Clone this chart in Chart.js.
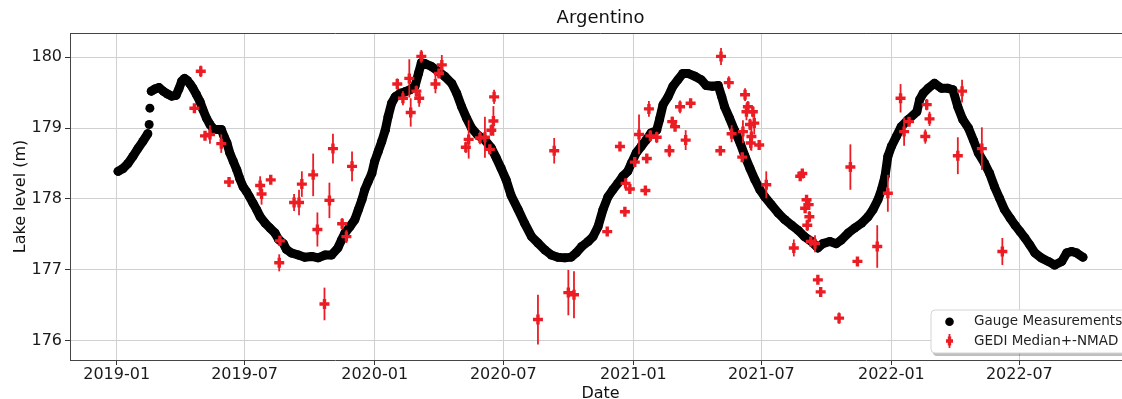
<!DOCTYPE html>
<html>
<head>
<meta charset="utf-8">
<script src="https://cdn.jsdelivr.net/npm/chart.js@4.4.1/dist/chart.umd.min.js"></script>
<style>
html,body{margin:0;padding:0;background:#ffffff;overflow:hidden;width:1122px;height:399px;}
#wrap{width:1140px;height:399px;}
canvas{display:block;}
</style>
</head>
<body>
<div id="wrap"><canvas id="c" width="1140" height="399" style="width:1140px;height:399px"></canvas></div>
<script>
// ---------- data ----------
const chartTitle = 'Argentino';
const xAxisTitle = 'Date';
const yAxisTitle = 'Lake level (m)';
const xTickLabels = ['2019-01','2019-07','2020-01','2020-07','2021-01','2021-07','2022-01','2022-07'];
const yTickValues = [176, 177, 178, 179, 180];
const xRange = ['2018-10-27', '2022-12-06'];
const yRange = [175.73, 180.34];

const gaugeLabel = 'Gauge Measurements';
const gaugeDates = [
'2019-01-03','2019-01-10','2019-01-17','2019-01-24','2019-01-31','2019-02-07','2019-02-14','2019-02-16','2019-02-17','2019-02-19',
'2019-02-24','2019-03-02','2019-03-08','2019-03-14','2019-03-20','2019-03-26','2019-03-30','2019-04-03','2019-04-07','2019-04-11',
'2019-04-15','2019-04-19','2019-04-24','2019-04-29','2019-05-03','2019-05-08','2019-05-13','2019-05-18','2019-05-24','2019-05-29',
'2019-06-02','2019-06-06','2019-06-10','2019-06-15','2019-06-20','2019-06-24','2019-06-29','2019-07-04','2019-07-08','2019-07-13',
'2019-07-18','2019-07-23','2019-07-30','2019-08-06','2019-08-13','2019-08-18','2019-08-25','2019-08-29','2019-09-05','2019-09-15',
'2019-09-24','2019-10-04','2019-10-13','2019-10-23','2019-11-01','2019-11-10','2019-11-15','2019-11-20','2019-11-27','2019-12-04',
'2019-12-09','2019-12-14','2019-12-18','2019-12-23','2019-12-28','2020-01-01','2020-01-06','2020-01-11','2020-01-16','2020-01-20',
'2020-01-25','2020-01-30','2020-02-06','2020-02-13','2020-02-20','2020-02-27','2020-03-03','2020-03-07','2020-03-12','2020-03-21',
'2020-03-31','2020-04-09','2020-04-19','2020-04-26','2020-05-03','2020-05-10','2020-05-17','2020-05-26','2020-06-05','2020-06-14',
'2020-06-21','2020-06-28','2020-07-05','2020-07-12','2020-07-22','2020-07-31','2020-08-10','2020-08-19','2020-08-29','2020-09-07',
'2020-09-16','2020-09-26','2020-10-05','2020-10-12','2020-10-20','2020-10-29','2020-11-05','2020-11-12','2020-11-19','2020-11-26',
'2020-12-03','2020-12-10','2020-12-17','2020-12-24','2020-12-29','2021-01-05','2021-01-12','2021-01-19','2021-01-26','2021-02-03',
'2021-02-07','2021-02-12','2021-02-19','2021-02-26','2021-03-05','2021-03-12','2021-03-19','2021-03-29','2021-04-07','2021-04-14',
'2021-04-23','2021-05-01','2021-05-06','2021-05-10','2021-05-17','2021-05-24','2021-06-01','2021-06-08','2021-06-15','2021-06-22',
'2021-06-29','2021-07-06','2021-07-15','2021-07-25','2021-08-03','2021-08-13','2021-08-22','2021-08-31','2021-09-10','2021-09-19',
'2021-09-26','2021-10-06','2021-10-15','2021-10-22','2021-11-01','2021-11-10','2021-11-20','2021-11-29','2021-12-06','2021-12-13',
'2021-12-18','2021-12-23','2021-12-27','2022-01-01','2022-01-08','2022-01-15','2022-01-25','2022-02-06','2022-02-10','2022-02-15',
'2022-02-22','2022-03-03','2022-03-13','2022-03-22','2022-03-29','2022-04-05','2022-04-12','2022-04-20','2022-04-27','2022-05-04',
'2022-05-13','2022-05-20','2022-05-27','2022-06-03','2022-06-10','2022-06-18','2022-06-25','2022-07-02','2022-07-09','2022-07-16',
'2022-07-23','2022-08-01','2022-08-11','2022-08-20','2022-08-30','2022-09-06','2022-09-13','2022-09-20','2022-09-29'
];
const gaugeLevels = [
178.39,178.43,178.50,178.60,178.71,178.81,178.92,179.05,179.28,179.52,
179.55,179.57,179.52,179.48,179.45,179.46,179.55,179.66,179.70,179.67,
179.62,179.56,179.47,179.37,179.26,179.14,179.05,178.99,178.98,178.98,
178.88,178.79,178.65,178.53,178.41,178.29,178.17,178.10,178.03,177.94,
177.85,177.75,177.66,177.59,177.52,177.43,177.37,177.29,177.24,177.21,
177.18,177.19,177.17,177.21,177.21,177.31,177.42,177.52,177.61,177.71,
177.85,177.99,178.13,178.25,178.36,178.53,178.67,178.81,178.97,179.16,
179.35,179.44,179.49,179.51,179.54,179.59,179.77,179.92,179.91,179.87,
179.80,179.73,179.63,179.49,179.30,179.14,179.00,178.90,178.83,178.72,
178.58,178.43,178.27,178.05,177.85,177.66,177.47,177.38,177.28,177.21,
177.18,177.17,177.18,177.24,177.33,177.40,177.47,177.61,177.85,178.03,
178.13,178.22,178.32,178.39,178.50,178.65,178.74,178.83,178.93,178.97,
179.12,179.33,179.44,179.59,179.68,179.77,179.77,179.73,179.68,179.60,
179.59,179.60,179.44,179.30,179.14,178.97,178.79,178.60,178.43,178.27,
178.13,178.03,177.92,177.80,177.71,177.63,177.56,177.47,177.40,177.31,
177.37,177.40,177.37,177.42,177.52,177.59,177.66,177.75,177.85,177.99,
178.13,178.32,178.60,178.74,178.88,179.02,179.12,179.23,179.40,179.49,
179.56,179.63,179.56,179.56,179.54,179.30,179.12,179.00,178.83,178.65,
178.50,178.36,178.17,178.01,177.85,177.73,177.63,177.54,177.45,177.35,
177.24,177.17,177.12,177.07,177.12,177.24,177.26,177.24,177.18
];

const gediLabel = 'GEDI Median+-NMAD';
const gediDates = [
'2019-04-21','2019-04-30','2019-05-06','2019-05-13','2019-05-29','2019-06-09','2019-07-23','2019-07-25','2019-08-07','2019-08-19',
'2019-08-20','2019-09-09','2019-09-16','2019-09-20','2019-10-06','2019-10-12','2019-10-22','2019-10-29','2019-11-03','2019-11-16',
'2019-11-22','2019-11-30','2020-02-02','2020-02-10','2020-02-19','2020-02-21','2020-02-29','2020-03-04','2020-03-07','2020-03-27',
'2020-04-01','2020-04-05','2020-05-09','2020-05-13','2020-05-29','2020-06-05','2020-06-12','2020-06-14','2020-06-17','2020-06-18',
'2020-08-19','2020-09-11','2020-10-01','2020-10-09','2020-11-25','2020-12-13','2020-12-20','2020-12-21','2020-12-27','2021-01-03',
'2021-01-09','2021-01-18','2021-01-20','2021-01-23','2021-01-25','2021-02-03','2021-02-21','2021-02-25','2021-03-01','2021-03-08',
'2021-03-16','2021-03-23','2021-05-05','2021-05-04','2021-05-16','2021-05-20','2021-06-04','2021-06-05','2021-06-08','2021-06-10',
'2021-06-12','2021-06-15','2021-06-16','2021-06-17','2021-06-19','2021-06-21','2021-06-28','2021-07-08','2021-08-16','2021-08-25',
'2021-08-28','2021-09-01','2021-09-03','2021-09-04','2021-09-06','2021-09-07','2021-09-09','2021-09-15','2021-09-19','2021-09-23',
'2021-10-19','2021-11-04','2021-11-14','2021-12-12','2021-12-27','2022-01-14','2022-01-19','2022-01-26','2022-02-18','2022-02-20',
'2022-02-24','2022-04-05','2022-04-11','2022-05-09','2022-06-07'
];
const gediMedian = [
179.28,179.80,178.89,178.91,178.78,178.24,178.19,178.07,178.27,177.10,
177.41,177.95,177.95,178.21,178.34,177.57,176.52,177.98,178.71,177.65,
177.47,178.46,179.62,179.42,179.70,179.22,179.52,179.42,180.01,179.62,
179.77,179.89,178.73,178.84,178.86,178.87,178.70,178.97,179.10,179.44,
176.30,178.68,176.68,176.65,177.54,178.74,177.82,178.22,178.14,178.52,
178.91,178.12,178.57,179.27,178.89,178.87,178.68,179.09,179.02,179.30,
178.83,179.35,180.01,178.68,179.64,178.92,178.59,178.95,179.47,179.23,
179.30,179.05,178.79,178.88,179.23,179.07,178.76,178.20,177.31,178.32,
178.36,177.87,177.99,177.63,177.92,177.75,177.40,177.37,176.86,176.69,
176.32,178.45,177.12,177.33,178.08,179.42,178.95,179.09,178.88,179.33,
179.13,178.61,179.52,178.71,177.26
];
const gediNmad = [
0.05,0.08,0.06,0.13,0.13,0.05,0.13,0.15,0.05,0.12,
0.07,0.12,0.18,0.18,0.30,0.24,0.23,0.25,0.21,0.08,
0.09,0.21,0.08,0.10,0.27,0.20,0.08,0.12,0.09,0.13,
0.06,0.14,0.08,0.27,0.09,0.29,0.05,0.08,0.21,0.10,
0.35,0.18,0.32,0.33,0.05,0.05,0.05,0.07,0.05,0.07,
0.28,0.05,0.05,0.11,0.08,0.08,0.09,0.07,0.05,0.09,
0.14,0.05,0.12,0.05,0.09,0.12,0.05,0.16,0.09,0.12,
0.08,0.08,0.10,0.20,0.08,0.16,0.05,0.19,0.12,0.05,
0.05,0.05,0.05,0.08,0.05,0.08,0.06,0.12,0.05,0.05,
0.08,0.32,0.05,0.30,0.26,0.20,0.20,0.05,0.10,0.08,
0.10,0.26,0.16,0.30,0.19
];

// ---------- helpers ----------
const DAY = 86400000;
const t = s => Date.parse(s + (s.length === 7 ? '-01' : '') + 'T00:00:00Z');
const FONT = "'DejaVu Sans', 'Liberation Sans', sans-serif";
const RED = '#ec1c24';

const gaugePoints = gaugeDates.map((d, i) => ({x: t(d), y: gaugeLevels[i]}));
const gediPoints = gediDates.map((d, i) => ({x: t(d), y: gediMedian[i]}));
const xTickValues = xTickLabels.map(t);

const errorBarPlugin = {
  id: 'errorBars',
  beforeDatasetDraw(chart, args) {
    if (chart.data.datasets[args.index].label !== gediLabel) return;
    const {ctx, scales: {x, y}, chartArea: a} = chart;
    ctx.save();
    ctx.beginPath(); ctx.rect(a.left, a.top, a.right - a.left, a.bottom - a.top); ctx.clip();
    ctx.strokeStyle = RED; ctx.lineWidth = 1.8;
    gediPoints.forEach((p, i) => {
      const px = x.getPixelForValue(p.x);
      ctx.beginPath();
      ctx.moveTo(px, y.getPixelForValue(p.y - gediNmad[i]));
      ctx.lineTo(px, y.getPixelForValue(p.y + gediNmad[i]));
      ctx.stroke();
    });
    ctx.restore();
  }
};

const framePlugin = {
  id: 'frame',
  afterDatasetsDraw(chart) {
    const {ctx, chartArea: a} = chart;
    ctx.save();
    ctx.strokeStyle = '#444'; ctx.lineWidth = 1;
    ctx.beginPath();
    ctx.moveTo(a.left, a.top + 0.5); ctx.lineTo(a.right + 0.5, a.top + 0.5); ctx.lineTo(a.right + 0.5, a.bottom);
    ctx.stroke();
    ctx.restore();
  }
};

function rrect(ctx, x, y, w, h, r) {
  ctx.beginPath();
  ctx.moveTo(x + r, y); ctx.lineTo(x + w - r, y); ctx.quadraticCurveTo(x + w, y, x + w, y + r);
  ctx.lineTo(x + w, y + h - r); ctx.quadraticCurveTo(x + w, y + h, x + w - r, y + h);
  ctx.lineTo(x + r, y + h); ctx.quadraticCurveTo(x, y + h, x, y + h - r);
  ctx.lineTo(x, y + r); ctx.quadraticCurveTo(x, y, x + r, y); ctx.closePath();
}

const legendPlugin = {
  id: 'boxLegend',
  afterDraw(chart) {
    const {ctx, chartArea: a} = chart;
    const x0 = a.right - 200, y0 = a.bottom - 50, w = 197, h = 43;
    ctx.save();
    ctx.fillStyle = 'rgba(0,0,0,0.25)';
    rrect(ctx, x0 + 2, y0 + 3, w, h, 4); ctx.fill();
    ctx.fillStyle = '#ffffff';
    rrect(ctx, x0, y0, w, h, 4); ctx.fill();
    ctx.strokeStyle = '#d4d4d4'; ctx.lineWidth = 1; ctx.stroke();
    const mx = x0 + 18.5, tx = x0 + 43;
    const rows = [gaugeLabel, gediLabel];
    ctx.font = '13.5px ' + FONT; ctx.fillStyle = '#222'; ctx.textBaseline = 'middle'; ctx.textAlign = 'left';
    rows.forEach((label, i) => {
      const cy = y0 + 11.7 + i * 19.3;
      if (label === gaugeLabel) {
        ctx.fillStyle = '#000'; ctx.beginPath(); ctx.arc(mx, cy, 4.3, 0, Math.PI * 2); ctx.fill();
      } else {
        ctx.strokeStyle = RED; ctx.lineWidth = 1.8;
        ctx.beginPath(); ctx.moveTo(mx, cy - 7); ctx.lineTo(mx, cy + 7); ctx.stroke();
        ctx.lineWidth = 3.4;
        ctx.beginPath(); ctx.moveTo(mx - 3.5, cy); ctx.lineTo(mx + 3.5, cy); ctx.moveTo(mx, cy - 4.5); ctx.lineTo(mx, cy + 4.5); ctx.stroke();
      }
      ctx.fillStyle = '#222';
      ctx.fillText(label, tx, cy);
    });
    ctx.restore();
  }
};

new Chart(document.getElementById('c'), {
  type: 'scatter',
  data: {
    datasets: [
      {
        label: gediLabel,
        data: gediPoints,
        order: 0,
        pointStyle: 'cross',
        pointRadius: 5,
        pointBorderWidth: 3.4,
        borderColor: RED,
        backgroundColor: RED,
        showLine: false
      },
      {
        label: gaugeLabel,
        data: gaugePoints,
        order: 1,
        showLine: true,
        borderColor: '#000',
        backgroundColor: '#000',
        borderWidth: 9,
        borderJoinStyle: 'round',
        borderCapStyle: 'round',
        pointRadius: 4.5,
        pointBorderWidth: 0,
        pointBackgroundColor: '#000',
        segment: {
          borderColor: ctx => ((ctx.p1.parsed.x - ctx.p0.parsed.x) <= 2 * DAY &&
                               Math.abs(ctx.p1.parsed.y - ctx.p0.parsed.y) >= 0.12) ? 'rgba(0,0,0,0)' : '#000'
        }
      }
    ]
  },
  options: {
    responsive: false,
    animation: false,
    events: [],
    layout: {padding: {left: 0, right: 9, top: 0, bottom: 0}},
    plugins: {
      legend: {display: false},
      tooltip: {enabled: false},
      title: {
        display: true, text: chartTitle, color: '#111', fullSize: false,
        font: {family: FONT, size: 18, weight: 'normal'},
        padding: {top: 7.5, bottom: 3.9}
      }
    },
    scales: {
      x: {
        type: 'linear', position: 'bottom',
        min: t(xRange[0]), max: t(xRange[1]),
        afterFit: s => { s.height = 39; },
        afterBuildTicks: s => { s.ticks = xTickValues.map(v => ({value: v})); },
        ticks: {
          autoSkip: false, maxRotation: 0, padding: 0, color: '#1a1a1a',
          font: {family: FONT, size: 16},
          callback: v => xTickLabels[xTickValues.indexOf(v)]
        },
        grid: {color: '#d0d0d0', lineWidth: 1, tickColor: '#333', tickLength: 5},
        border: {display: true, color: '#444', width: 1},
        title: {display: true, text: xAxisTitle, color: '#111', font: {family: FONT, size: 16}, padding: {top: 0, bottom: -4}}
      },
      y: {
        type: 'linear', position: 'left',
        min: yRange[0], max: yRange[1],
        afterFit: s => { s.width = 70; },
        afterBuildTicks: s => { s.ticks = yTickValues.map(v => ({value: v})); },
        ticks: {padding: 3, color: '#1a1a1a', font: {family: FONT, size: 16}, callback: v => String(v)},
        grid: {color: '#d0d0d0', lineWidth: 1, tickColor: '#333', tickLength: 5},
        border: {display: true, color: '#444', width: 1},
        title: {display: true, text: yAxisTitle, color: '#111', font: {family: FONT, size: 16}, padding: {top: 11.6, bottom: 0}}
      }
    }
  },
  plugins: [errorBarPlugin, framePlugin, legendPlugin]
});
</script>
</body>
</html>
